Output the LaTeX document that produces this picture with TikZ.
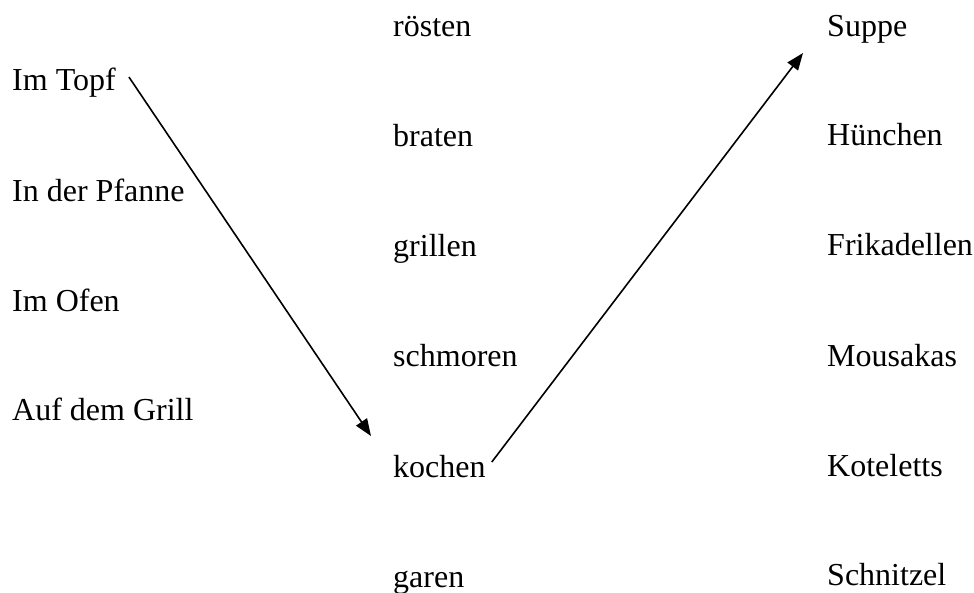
\documentclass[tikz,border=0pt]{standalone}
\usepackage{fontspec}
\setmainfont{Liberation Serif}
\usetikzlibrary{calc,arrows.meta}
\tikzset{
  word/.style={anchor=base west, inner sep=0pt, font=\fontsize{32}{38}\selectfont},
  link/.style={line width=1.6pt, -{Triangle[length=17pt,width=13pt]}}
}
\begin{document}
\begin{tikzpicture}[x=1pt,y=-1pt]
\useasboundingbox[fill=white] (0,0) rectangle (974,592);
% left column
\node[word] (topf) at (12,90) {Im Topf};
\node[word] (pfanne) at (12,201) {In der Pfanne};
\node[word] (ofen) at (12,311) {Im Ofen};
\node[word] (grill) at (12,420) {Auf dem Grill};
% middle column
\node[word] (roesten) at (393,36) {rösten};
\node[word] (braten) at (393,146) {braten};
\node[word] (grillen) at (393,256) {grillen};
\node[word] (schmoren) at (393,366) {schmoren};
\node[word] (kochen) at (393,477) {kochen};
\node[word] (garen) at (393,587) {garen};
% right column
\node[word] (suppe) at (827,36) {Suppe};
\node[word] (huenchen) at (827,145) {Hünchen};
\node[word] (frika) at (827,255) {Frikadellen};
\node[word] (mousakas) at (827,366) {Mousakas};
\node[word] (kotel) at (827,476) {Koteletts};
\node[word] (schnitzel) at (827,585) {Schnitzel};
% connectors
\draw[link] ($(topf.base east)+(13,-13)$) -- ($(kochen.base west)+(-22,-41)$);
\draw[link] ($(kochen.base east)+(6,-15)$) -- ($(suppe.base west)+(-24,17)$);
\end{tikzpicture}
\end{document}
